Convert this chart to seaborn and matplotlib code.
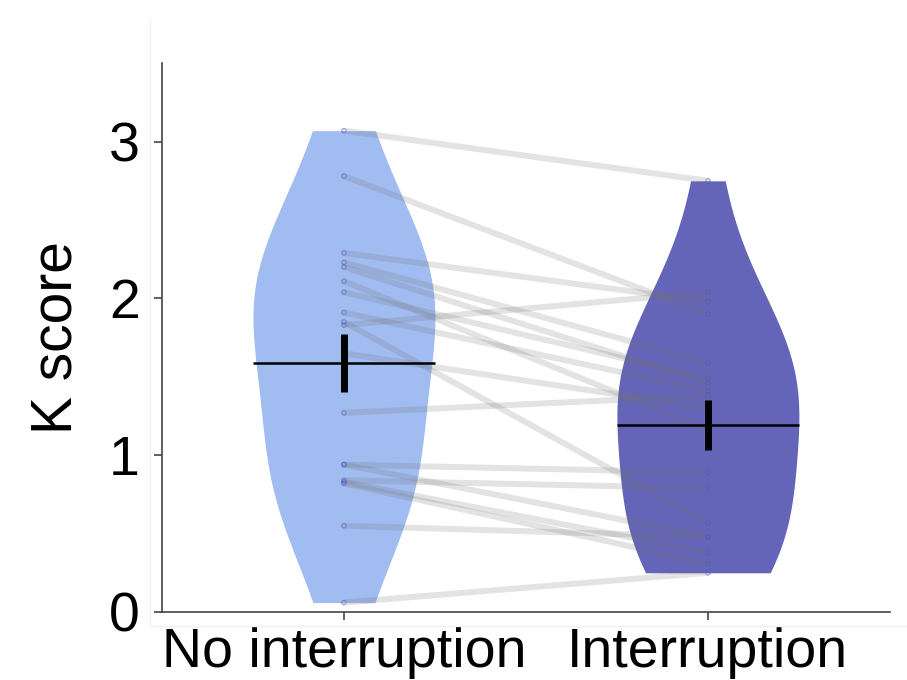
import numpy as np
import pandas as pd
import matplotlib
matplotlib.use("Agg")
import matplotlib.pyplot as plt
from matplotlib.lines import Line2D
import seaborn as sns

# ---- data ----
conditions = ["No interruption", "Interruption"]
no_interruption = [3.07, 2.78, 2.29, 2.23, 2.20, 2.11, 2.04, 1.91, 1.85, 1.83,
                   1.65, 1.27, 0.94, 0.94, 0.84, 0.83, 0.82, 0.55, 0.06]
interruption = [2.75, 1.90, 1.98, 1.59, 1.46, 1.16, 1.49, 1.41, 0.57, 2.04,
                1.30, 1.38, 0.89, 0.48, 0.79, 0.38, 0.31, 0.48, 0.25]
y_ticks = [0, 1, 2, 3]
violin_colors = ["#A0BCF0", "#6464B9"]

n = len(no_interruption)
df = pd.DataFrame({
    "subject": list(range(n)) * 2,
    "cond": [conditions[0]] * n + [conditions[1]] * n,
    "pos": [0] * n + [1] * n,
    "K": no_interruption + interruption,
})

sns.set_theme(style="ticks")
plt.rcParams["font.family"] = ["Liberation Sans", "DejaVu Sans"]
plt.rcParams["text.color"] = "black"
plt.rcParams["axes.labelcolor"] = "black"
plt.rcParams["xtick.color"] = "black"
plt.rcParams["ytick.color"] = "black"

fig = plt.figure(figsize=(9.07, 6.8), dpi=100)
ax = fig.add_axes([0.1786, 0.1, 0.8025, 0.807])

sns.violinplot(data=df, x="pos", y="K", hue="cond", hue_order=conditions,
               palette=violin_colors, legend=False, inner=None, cut=0,
               linewidth=0, saturation=1, width=0.5, dodge=False,
               bw_method="silverman", bw_adjust=1.15, native_scale=True,
               ax=ax, zorder=1)

sns.lineplot(data=df, x="pos", y="K", units="subject", estimator=None,
             color="0.45", alpha=0.2, lw=4.3, ax=ax, zorder=2)
sns.scatterplot(data=df, x="pos", y="K", marker="o", s=10, facecolor="none",
                edgecolor="#4a55c8", linewidth=0.8, alpha=0.45, ax=ax, zorder=3)

# mean +/- SEM
for i, vals in enumerate([no_interruption, interruption]):
    v = np.asarray(vals)
    m = v.mean()
    sem = v.std(ddof=1) / np.sqrt(len(v))
    ax.hlines(m, i - 0.25, i + 0.25, color="black", lw=1.8, zorder=5)
    ax.vlines(i, m - sem, m + sem, color="black", lw=5, zorder=5)

ax.set_xlim(-0.5, 1.5)
ax.set_ylim(0, 3.5)
ax.set_xticks([0, 1])
ax.set_xticklabels(conditions)
ax.set_yticks(y_ticks)
ax.set_yticklabels([str(t) for t in y_ticks])
ax.set_xlabel("")
ax.set_ylabel("K score", fontsize=41, labelpad=18)
ax.tick_params(axis="both", labelsize=40, length=6, width=1.2)
ax.tick_params(axis="both", color="#444444")
ax.tick_params(axis="y", pad=10)
ax.tick_params(axis="x", pad=5)
for side in ["top", "right"]:
    ax.spines[side].set_visible(False)
for side in ["left", "bottom"]:
    ax.spines[side].set_color("#444444")
    ax.spines[side].set_linewidth(1.2)

# faint outer frame seen in the reference
fig.add_artist(Line2D([150 / 907, 150 / 907], [1 - 18 / 680, 1 - 626 / 680],
                      transform=fig.transFigure, color="#f2f2f2", lw=1))
fig.add_artist(Line2D([150 / 907, 1.0], [1 - 626 / 680, 1 - 626 / 680],
                      transform=fig.transFigure, color="#f2f2f2", lw=1))

fig.savefig("out.png", dpi=100)
